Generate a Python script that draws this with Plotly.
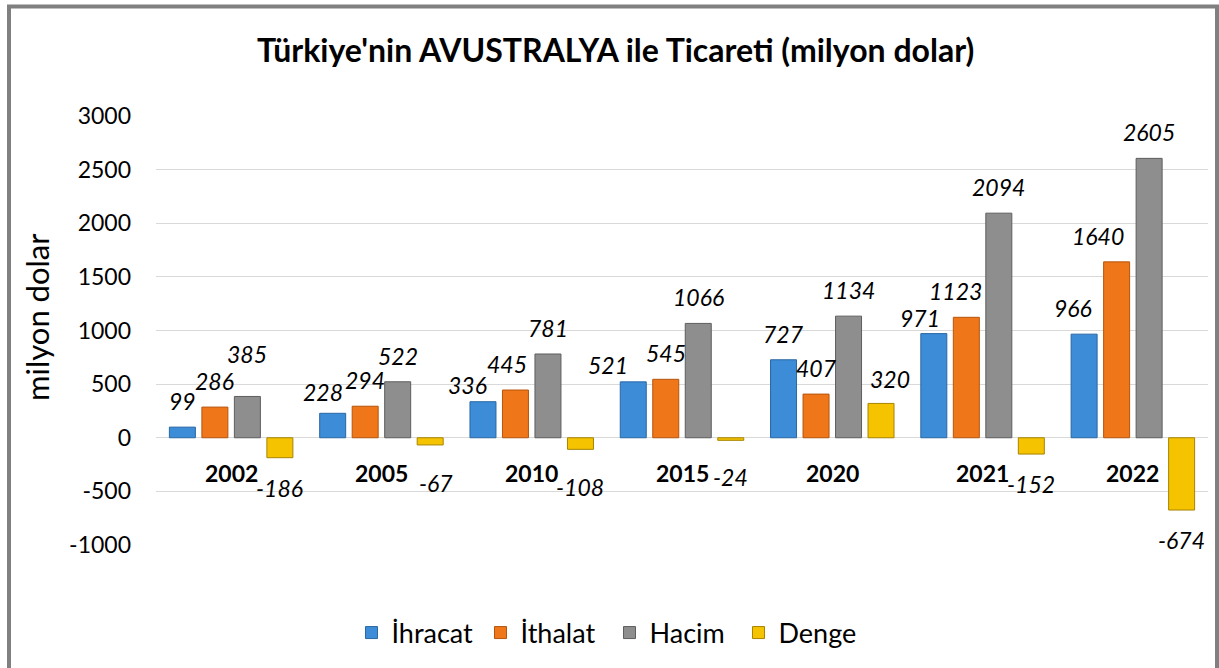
import plotly.graph_objects as go

years = ["2002", "2005", "2010", "2015", "2020", "2021", "2022"]
ihracat = [99, 228, 336, 521, 727, 971, 966]
ithalat = [286, 294, 445, 545, 407, 1123, 1640]
hacim = [385, 522, 781, 1066, 1134, 2094, 2605]
denge = [-186, -67, -108, -24, 320, -152, -674]

series_names = ["İhracat", "İthalat", "Hacim", "Denge"]
series_values = [ihracat, ithalat, hacim, denge]

tick_values = [-1000, -500, 0, 500, 1000, 1500, 2000, 2500, 3000]
tick_labels = ["-1000", "-500", "0", "500", "1000", "1500", "2000", "2500", "3000"]

# styling
colors = ["#3C8CD8", "#F0761A", "#8E8E8E", "#F5C300"]
edges = ["#2A67A3", "#B5550D", "#5E5E5E", "#A88400"]

# manual label nudges in pixels (dx, extra dy) matching the reference layout
label_nudges = [
    [(0, 0), (-10, -5), (-15, -9), (-25, -9), (0, 0), (-14, -10), (-11, 0)],
    [(0, 0), (0, 0), (-8, 0), (0, 0), (0, 0), (-11, 0), (-19, 0)],
    [(0, 16), (0, 0), (0, 0), (0, 0), (0, 0), (0, 0), (0, 0)],
    [(0, 0), (6, -8), (0, -8), (0, -7), (9, -2), (0, 0), (0, 0)],
]

FONT = "Lato"

W, H = 1219, 668
ML, MR, MT, MB = 156, 11, 116, 123
plot_w = W - ML - MR
plot_h = H - MT - MB
BARGAP = 0.135
slot = plot_w / len(years) * (1 - BARGAP) / 4

fig = go.Figure()
for name, vals, c, e in zip(series_names, series_values, colors, edges):
    fig.add_trace(go.Bar(
        x=years, y=vals, name=name,
        marker=dict(color=c, line=dict(color=e, width=1)),
    ))

annotations = []
for i, vals in enumerate(series_values):
    for j, v in enumerate(vals):
        dx, dy = label_nudges[i][j]
        annotations.append(dict(
            x=j, y=v, xref="x", yref="y", text=f"<i>{v}</i>", showarrow=False,
            xshift=(i - 1.5) * slot + dx, yshift=(26 if v >= 0 else -30) + dy,
            xanchor="center", yanchor="middle",
            font=dict(family=FONT, size=23, color="#000000"),
        ))
for j, yr in enumerate(years):
    annotations.append(dict(
        x=j, y=0, xref="x", yref="y", text=f"<b>{yr}</b>", showarrow=False,
        yshift=-35, xanchor="center", yanchor="middle",
        font=dict(family=FONT, size=23, color="#000000"),
    ))
annotations.append(dict(
    x=(37 - ML) / plot_w, y=(H - MB - 317) / plot_h, xref="paper", yref="paper",
    text="milyon dolar", textangle=-90, showarrow=False,
    xanchor="center", yanchor="middle",
    font=dict(family=FONT, size=31, color="#000000"),
))

fig.update_layout(
    width=W, height=H,
    margin=dict(l=ML, r=MR, t=MT, b=MB, autoexpand=False),
    paper_bgcolor="white", plot_bgcolor="white",
    barmode="group", bargap=BARGAP, bargroupgap=0.2,
    title=dict(text="<b>Türkiye'nin AVUSTRALYA ile Ticareti (milyon dolar)</b>",
               x=0.505, xanchor="center", y=1 - 51 / H, yanchor="middle",
               font=dict(family=FONT, size=32, color="#000000")),
    font=dict(family=FONT, color="#000000"),
    xaxis=dict(type="category", range=[-0.5, len(years) - 0.5], autorange=False,
               showticklabels=False, showgrid=False, showline=False,
               ticks="", automargin=False),
    yaxis=dict(range=[-1000, 3000], tickmode="array", tickvals=tick_values, ticktext=tick_labels,
               showgrid=True, gridcolor="#D9D9D9",
               gridwidth=1.3, zeroline=True, zerolinecolor="#D9D9D9", zerolinewidth=1.3,
               showline=False, ticks="", ticklabelstandoff=24, automargin=False,
               tickfont=dict(family=FONT, size=23, color="#000000")),
    legend=dict(orientation="h", xref="container", yref="container",
                x=0.5, xanchor="center", y=1 - 633 / H, yanchor="middle",
                font=dict(family=FONT, size=27, color="#000000"),
                itemwidth=30, tracegroupgap=0, entrywidth=84, entrywidthmode="pixels"),
    annotations=annotations,
    showlegend=True,
)

fig.add_shape(type="rect", xref="paper", yref="paper",
              x0=(9 - ML) / plot_w, x1=(1217 - ML) / plot_w,
              y0=(H - MB - 720) / plot_h, y1=(H - MB - 6.5) / plot_h,
              line=dict(color="#808080", width=4), fillcolor="rgba(0,0,0,0)", layer="below")

fig.write_html("out.html", config={"displayModeBar": False},
               post_script="document.body.style.margin='0px';document.body.style.overflow='hidden';")
